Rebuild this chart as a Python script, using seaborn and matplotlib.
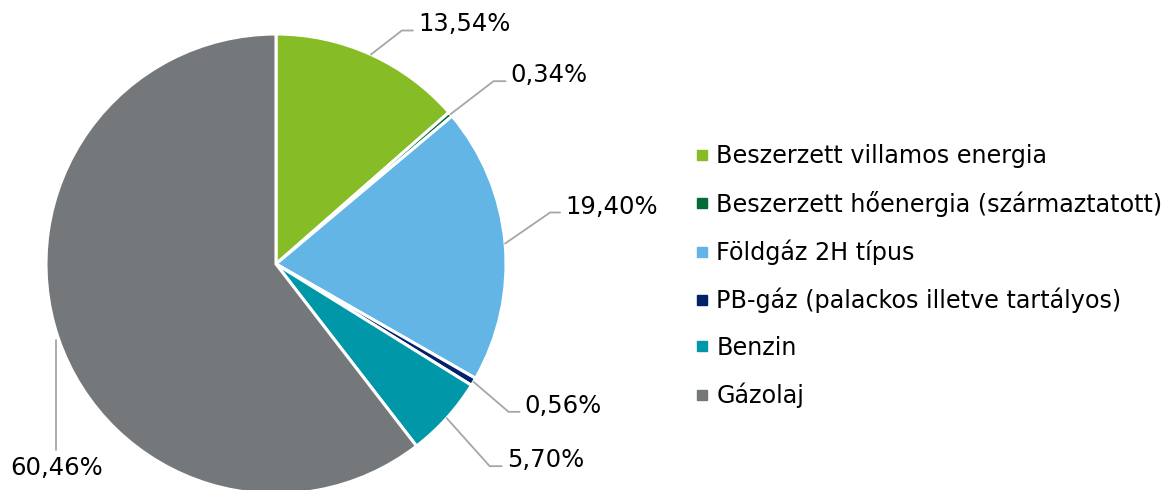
import numpy as np
import matplotlib.pyplot as plt
import seaborn as sns
from matplotlib.lines import Line2D

sns.set_theme(style="white")
plt.rcParams['font.family'] = ['DejaVu Sans']

# Data
categories = ['Beszerzett villamos energia',
              'Beszerzett hőenergia (származtatott)',
              'Földgáz 2H típus',
              'PB-gáz (palackos illetve tartályos)',
              'Benzin',
              'Gázolaj']
shares = [13.54, 0.34, 19.40, 0.56, 5.70, 60.46]
labels = ['13,54%', '0,34%', '19,40%', '0,56%', '5,70%', '60,46%']
colors = ['#86BC25', '#046A38', '#62B5E5', '#012169', '#0097A9', '#75787B']

# leader line offsets (px) from the wedge edge: elbow and horizontal tail
elbows = [(31, 24), (43, 33), (45, 31), (35, -30), (43, -48), (-2, -112)]
tails = [11, 12, 10, 11, 12, 0]

W, H = 1166, 490
fig = plt.figure(figsize=(W / 100, H / 100), dpi=100)
ax = fig.add_axes([0, 0, 1, 1])

cx, cy, r = 276, H - 264, 230
wedges, _ = ax.pie(shares, colors=colors, startangle=90, counterclock=False,
                   center=(cx, cy), radius=r, frame=True,
                   wedgeprops=dict(edgecolor='white', linewidth=2.2))
ax.set_xlim(0, W)
ax.set_ylim(0, H)
ax.axis('off')

line_c = '#A6A6A6'
for w, lab, (dx, dy), t in zip(wedges, labels, elbows, tails):
    ang = np.deg2rad((w.theta1 + w.theta2) / 2)
    x0, y0 = cx + r * np.cos(ang), cy + r * np.sin(ang)
    x1, y1 = x0 + dx, y0 + dy
    if t > 0:
        ax.plot([x0, x1, x1 + t], [y0, y1, y1], color=line_c, lw=1.3)
        ax.text(x1 + t + 5, y1 - 1, lab, fontsize=17.5, color='#000000',
                ha='left', va='baseline')
    else:
        ax.plot([x0 - 2, x0 - 2], [y0 - 2, y1], color=line_c, lw=1.3)
        ax.text(x0 - 2, y1 - 6, lab, fontsize=17.5, color='#000000',
                ha='center', va='top')

handles = [Line2D([], [], marker='s', linestyle='', markersize=6.5,
                  markerfacecolor=c, markeredgecolor=c) for c in colors]
leg = ax.legend(handles, categories, loc='center left',
                bbox_to_anchor=(696 / W, 1 - 276 / H),
                frameon=False, fontsize=17.2, labelspacing=0.95, handlelength=0.5,
                handletextpad=0.35, borderaxespad=0, borderpad=0)
for txt in leg.get_texts():
    txt.set_color('#000000')

fig.savefig('out.png', dpi=100)
